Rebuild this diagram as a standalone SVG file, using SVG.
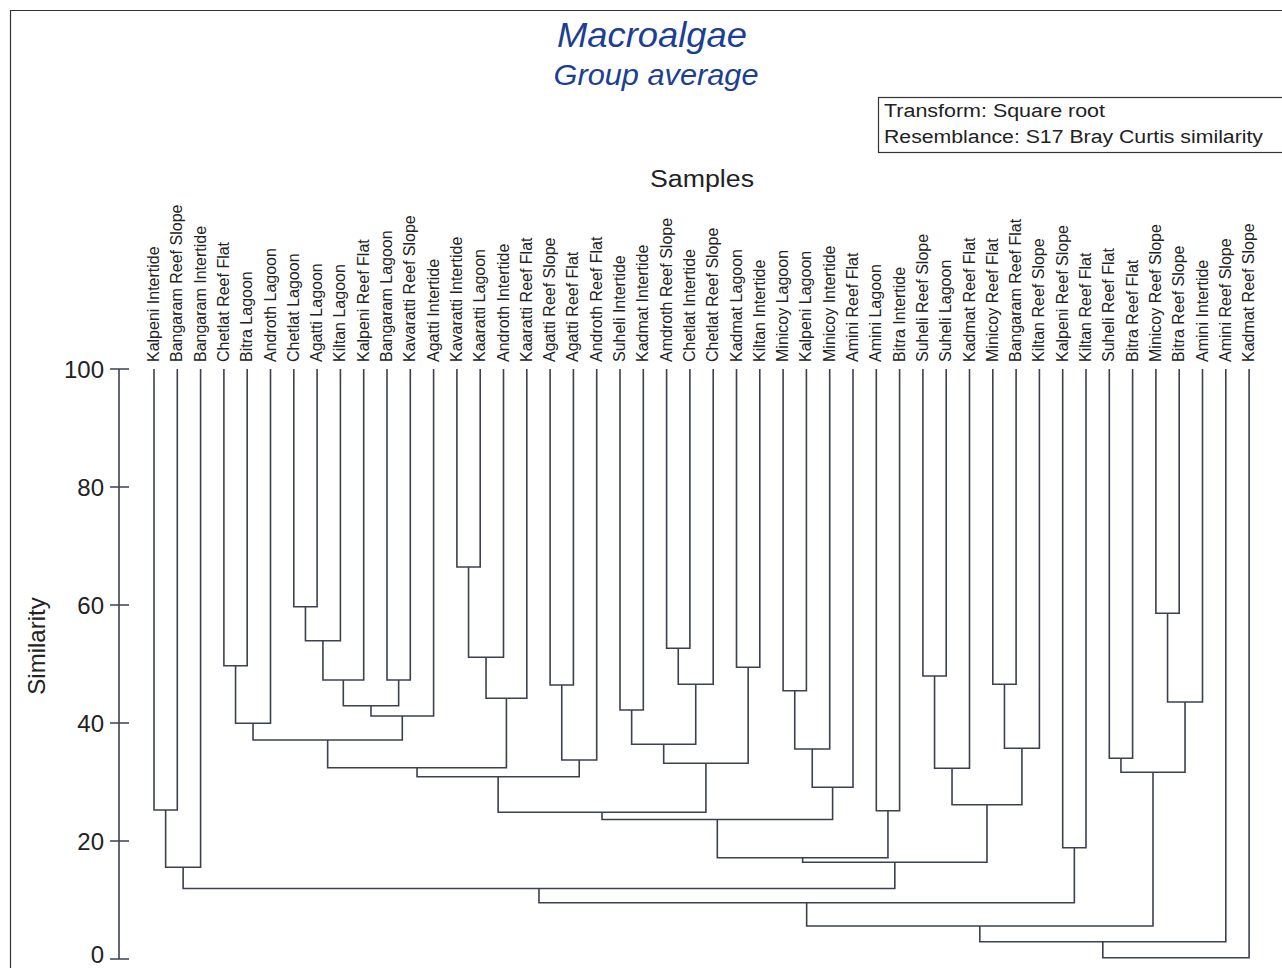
<svg xmlns="http://www.w3.org/2000/svg" width="1282" height="968" viewBox="0 0 1282 968">
<style>
text{font-family:"Liberation Sans",Arial,sans-serif}
.title{fill:#1c3f94;font-style:italic;text-anchor:middle}
.lbl{font-size:16px;fill:#222}
.tk{font-size:24px;fill:#222;text-anchor:end}
.ax{stroke:#3c4150;stroke-width:1.6;fill:none}
.br{stroke:#3c4150;stroke-width:1.6;fill:none}
.box{font-size:18px;fill:#222}
</style>
<rect x="0" y="0" width="1282" height="968" fill="#fff"/>
<path d="M10.5 968V10.5H1282" stroke="#333" stroke-width="1.2" fill="none"/>
<g id="title">
<text class="title" x="652" y="47" font-size="35" textLength="190" lengthAdjust="spacingAndGlyphs">Macroalgae</text>
<text class="title" x="656" y="85" font-size="30" textLength="205" lengthAdjust="spacingAndGlyphs">Group average</text>
</g>
<g id="legend">
<rect x="878.5" y="97.5" width="420" height="55" fill="#fff" stroke="#333" stroke-width="1.2"/>
<text class="box" x="884" y="117" textLength="221" lengthAdjust="spacingAndGlyphs">Transform: Square root</text>
<text class="box" x="884" y="143" textLength="379" lengthAdjust="spacingAndGlyphs">Resemblance: S17 Bray Curtis similarity</text>
</g>
<text x="702" y="187" font-size="23" text-anchor="middle" fill="#222" textLength="104" lengthAdjust="spacingAndGlyphs">Samples</text>
<text x="45" y="646" font-size="24" text-anchor="middle" fill="#222" transform="rotate(-90 45 646)">Similarity</text>
<g id="axis">
<path class="ax" d="M119 369V959M110 369H129M110 487H129M110 605H129M110 723H129M110 841H129M110 959H129"/>
<text class="tk" x="104" y="377.5">100</text>
<text class="tk" x="104" y="495.5">80</text>
<text class="tk" x="104" y="613.5">60</text>
<text class="tk" x="104" y="731.5">40</text>
<text class="tk" x="104" y="849.5">20</text>
<text class="tk" x="104" y="962.5">0</text>
</g>
<g id="leaves" class="lbl">
<g id="n1"><text transform="translate(159,362) rotate(-90)">Kalpeni Intertide</text></g>
<g id="n2"><text transform="translate(182.3,362) rotate(-90)">Bangaram Reef Slope</text></g>
<g id="n3"><text transform="translate(205.6,362) rotate(-90)">Bangaram Intertide</text></g>
<g id="n4"><text transform="translate(228.9,362) rotate(-90)">Chetlat Reef Flat</text></g>
<g id="n5"><text transform="translate(252.2,362) rotate(-90)">Bitra Lagoon</text></g>
<g id="n6"><text transform="translate(275.5,362) rotate(-90)">Androth Lagoon</text></g>
<g id="n7"><text transform="translate(298.8,362) rotate(-90)">Chetlat Lagoon</text></g>
<g id="n8"><text transform="translate(322.1,362) rotate(-90)">Agatti Lagoon</text></g>
<g id="n9"><text transform="translate(345.4,362) rotate(-90)">Kiltan Lagoon</text></g>
<g id="n10"><text transform="translate(368.7,362) rotate(-90)">Kalpeni Reef Flat</text></g>
<g id="n11"><text transform="translate(392,362) rotate(-90)">Bangaram Lagoon</text></g>
<g id="n12"><text transform="translate(415.3,362) rotate(-90)">Kavaratti Reef Slope</text></g>
<g id="n13"><text transform="translate(438.6,362) rotate(-90)">Agatti Intertide</text></g>
<g id="n14"><text transform="translate(461.9,362) rotate(-90)">Kavaratti Intertide</text></g>
<g id="n15"><text transform="translate(485.2,362) rotate(-90)">Kaaratti Lagoon</text></g>
<g id="n16"><text transform="translate(508.5,362) rotate(-90)">Androth Intertide</text></g>
<g id="n17"><text transform="translate(531.8,362) rotate(-90)">Kaaratti Reef Flat</text></g>
<g id="n18"><text transform="translate(555.1,362) rotate(-90)">Agatti Reef Slope</text></g>
<g id="n19"><text transform="translate(578.4,362) rotate(-90)">Agatti Reef Flat</text></g>
<g id="n20"><text transform="translate(601.7,362) rotate(-90)">Androth Reef Flat</text></g>
<g id="n21"><text transform="translate(625,362) rotate(-90)">Suheli Intertide</text></g>
<g id="n22"><text transform="translate(648.3,362) rotate(-90)">Kadmat Intertide</text></g>
<g id="n23"><text transform="translate(671.6,362) rotate(-90)">Amdroth Reef Slope</text></g>
<g id="n24"><text transform="translate(694.9,362) rotate(-90)">Chetlat Intertide</text></g>
<g id="n25"><text transform="translate(718.2,362) rotate(-90)">Chetlat Reef Slope</text></g>
<g id="n26"><text transform="translate(741.5,362) rotate(-90)">Kadmat Lagoon</text></g>
<g id="n27"><text transform="translate(764.8,362) rotate(-90)">Kiltan Intertide</text></g>
<g id="n28"><text transform="translate(788.1,362) rotate(-90)">Minicoy Lagoon</text></g>
<g id="n29"><text transform="translate(811.4,362) rotate(-90)">Kalpeni Lagoon</text></g>
<g id="n30"><text transform="translate(834.7,362) rotate(-90)">Minicoy Intertide</text></g>
<g id="n31"><text transform="translate(858,362) rotate(-90)">Amini Reef Flat</text></g>
<g id="n32"><text transform="translate(881.3,362) rotate(-90)">Amini Lagoon</text></g>
<g id="n33"><text transform="translate(904.6,362) rotate(-90)">Bitra Intertide</text></g>
<g id="n34"><text transform="translate(927.9,362) rotate(-90)">Suheli Reef Slope</text></g>
<g id="n35"><text transform="translate(951.2,362) rotate(-90)">Suheli Lagoon</text></g>
<g id="n36"><text transform="translate(974.5,362) rotate(-90)">Kadmat Reef Flat</text></g>
<g id="n37"><text transform="translate(997.8,362) rotate(-90)">Minicoy Reef Flat</text></g>
<g id="n38"><text transform="translate(1021.1,362) rotate(-90)">Bangaram Reef Flat</text></g>
<g id="n39"><text transform="translate(1044.4,362) rotate(-90)">Kiltan Reef Slope</text></g>
<g id="n40"><text transform="translate(1067.7,362) rotate(-90)">Kalpeni Reef Slope</text></g>
<g id="n41"><text transform="translate(1091,362) rotate(-90)">Kiltan Reef Flat</text></g>
<g id="n42"><text transform="translate(1114.3,362) rotate(-90)">Suheli Reef Flat</text></g>
<g id="n43"><text transform="translate(1137.6,362) rotate(-90)">Bitra Reef Flat</text></g>
<g id="n44"><text transform="translate(1160.9,362) rotate(-90)">Minicoy Reef Slope</text></g>
<g id="n45"><text transform="translate(1184.2,362) rotate(-90)">Bitra Reef Slope</text></g>
<g id="n46"><text transform="translate(1207.5,362) rotate(-90)">Amini Intertide</text></g>
<g id="n47"><text transform="translate(1230.8,362) rotate(-90)">Amini Reef Slope</text></g>
<g id="n48"><text transform="translate(1254.1,362) rotate(-90)">Kadmat Reef Slope</text></g>
</g>
<g id="connectors" class="br">
<path d="M154 369V810H177.3V369"/>
<path d="M165.65 810V867.3H200.6V369"/>
<path d="M223.9 369V665.7H247.2V369"/>
<path d="M235.55 665.7V723.3H270.5V369"/>
<path d="M293.8 369V606.7H317.1V369"/>
<path d="M305.45 606.7V640.7H340.4V369"/>
<path d="M322.93 640.7V680H363.7V369"/>
<path d="M387 369V680H410.3V369"/>
<path d="M343.31 680V705.7H398.65V680"/>
<path d="M370.98 705.7V716H433.6V369"/>
<path d="M253.03 723.3V740H402.29V716"/>
<path d="M456.9 369V567H480.2V369"/>
<path d="M468.55 567V657.3H503.5V369"/>
<path d="M486.03 657.3V698.3H526.8V369"/>
<path d="M327.66 740V767.7H506.41V698.3"/>
<path d="M550.1 369V685H573.4V369"/>
<path d="M561.75 685V760H596.7V369"/>
<path d="M417.04 767.7V776.7H579.23V760"/>
<path d="M620 369V710H643.3V369"/>
<path d="M666.6 369V648.3H689.9V369"/>
<path d="M678.25 648.3V684.3H713.2V369"/>
<path d="M631.65 710V744.3H695.73V684.3"/>
<path d="M736.5 369V667.3H759.8V369"/>
<path d="M663.69 744.3V763.3H748.15V667.3"/>
<path d="M498.13 776.7V812.3H705.92V763.3"/>
<path d="M783.1 369V690.7H806.4V369"/>
<path d="M794.75 690.7V749H829.7V369"/>
<path d="M812.23 749V787.3H853V369"/>
<path d="M602.03 812.3V819.5H832.61V787.3"/>
<path d="M876.3 369V810.7H899.6V369"/>
<path d="M717.32 819.5V857.7H887.95V810.7"/>
<path d="M922.9 369V676H946.2V369"/>
<path d="M934.55 676V768.3H969.5V369"/>
<path d="M992.8 369V684.3H1016.1V369"/>
<path d="M1004.45 684.3V748.3H1039.4V369"/>
<path d="M952.03 768.3V804.7H1021.93V748.3"/>
<path d="M802.64 857.7V862.3H986.98V804.7"/>
<path d="M183.13 867.3V888.5H894.81V862.3"/>
<path d="M1062.7 369V847.7H1086V369"/>
<path d="M538.97 888.5V902.7H1074.35V847.7"/>
<path d="M1109.3 369V758.3H1132.6V369"/>
<path d="M1155.9 369V613.3H1179.2V369"/>
<path d="M1167.55 613.3V702H1202.5V369"/>
<path d="M1120.95 758.3V772.3H1185.03V702"/>
<path d="M806.66 902.7V926H1152.99V772.3"/>
<path d="M979.83 926V941.7H1225.8V369"/>
<path d="M1102.81 941.7V957.7H1249.1V369"/>
</g>
</svg>
